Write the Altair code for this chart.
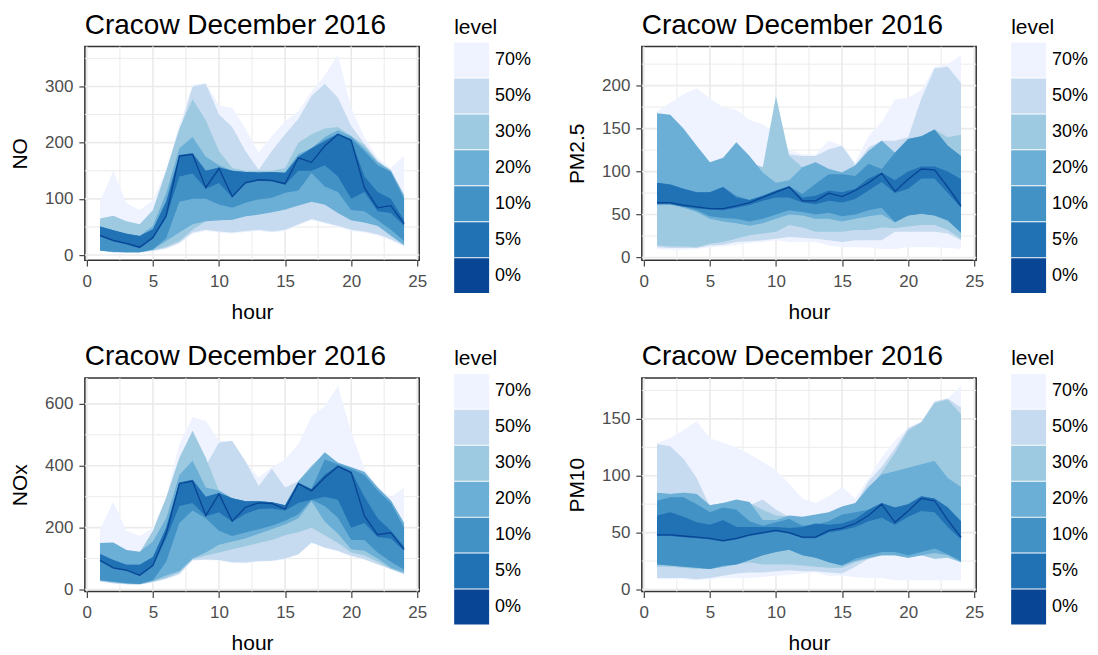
import altair as alt
import pandas as pd

HOURS = list(range(1, 25))
LEVELS = ["70%", "50%", "30%", "20%", "10%", "5%", "0%"]
BLUES = ["#EFF3FF", "#C6DBEF", "#9ECAE1", "#6BAED6", "#4292C6", "#2171B5", "#084594"]
TITLE = "Cracow December 2016"
X_MAJOR = [0, 5, 10, 15, 20, 25]
X_MINOR = [2.5, 7.5, 12.5, 17.5, 22.5]

# ---------------- NO ----------------
NO_med  = [35, 26, 21, 14, 31, 70, 176, 179, 120, 154, 104, 129, 134, 133, 127, 173, 165, 194, 215, 204, 120, 84, 88, 56]
NO_lo5  = [33, 24, 19, 12, 29, 66, 140, 145, 118, 128, 103, 127, 132, 131, 125, 150, 150, 160, 140, 100, 112, 78, 75, 52]
NO_hi5  = [51, 44, 38, 34, 46, 95, 178, 181, 150, 156, 150, 148, 147, 148, 146, 175, 190, 202, 216, 205, 140, 112, 100, 62]
NO_lo10 = [8, 6, 5, 5, 10, 30, 95, 100, 100, 90, 84, 93, 99, 102, 111, 115, 146, 122, 112, 80, 78, 62, 45, 25]
NO_hi10 = [51, 44, 38, 34, 46, 95, 178, 181, 150, 156, 150, 148, 147, 148, 146, 175, 190, 205, 216, 208, 185, 160, 148, 100]
NO_lo20 = [8, 6, 5, 5, 10, 25, 40, 55, 60, 62, 63, 69, 72, 76, 81, 88, 95, 90, 75, 62, 58, 52, 35, 18]
NO_hi20 = [51, 44, 38, 34, 52, 110, 190, 210, 175, 160, 150, 148, 147, 148, 148, 180, 190, 210, 222, 212, 190, 165, 150, 105]
NO_lo30 = [8, 5, 5, 5, 8, 15, 25, 45, 60, 62, 63, 69, 72, 76, 81, 88, 95, 90, 75, 62, 58, 52, 35, 18]
NO_hi30 = [65, 70, 60, 55, 80, 150, 225, 277, 240, 185, 155, 150, 150, 150, 155, 200, 215, 225, 228, 212, 196, 167, 150, 107]
NO_lo50 = [8, 5, 5, 5, 8, 12, 22, 40, 45, 42, 40, 43, 45, 42, 45, 55, 64, 58, 52, 45, 42, 37, 28, 17]
NO_hi50 = [60, 65, 55, 50, 75, 140, 220, 300, 305, 250, 228, 185, 152, 185, 215, 242, 283, 305, 280, 230, 198, 168, 152, 108]
NO_lo70 = [7, 4, 4, 4, 6, 11, 20, 38, 43, 40, 38, 41, 43, 40, 43, 53, 62, 56, 50, 43, 40, 35, 26, 15]
NO_hi70 = [96, 150, 92, 80, 98, 152, 232, 303, 306, 266, 262, 225, 182, 212, 238, 256, 291, 320, 356, 262, 210, 173, 155, 177]

# ---------------- PM2.5 ----------------
PM25_med  = [64, 64, 61, 59, 57, 57, 60, 64, 70, 76, 82, 66, 66, 75, 71, 78, 87, 98, 77, 91, 103, 102, 82, 60]
PM25_lo5  = [62, 62, 59, 57, 56, 55, 58, 61, 66, 70, 70, 64, 62, 66, 64, 68, 78, 88, 75, 80, 92, 92, 75, 58]
PM25_hi5  = [87, 85, 80, 76, 76, 82, 70, 67, 72, 78, 83, 70, 72, 78, 76, 80, 92, 99, 90, 100, 106, 106, 100, 91]
PM25_lo10 = [62, 62, 59, 55, 48, 46, 45, 42, 45, 50, 55, 53, 50, 52, 48, 50, 55, 58, 41, 49, 51, 49, 43, 29]
PM25_hi10 = [87, 85, 80, 76, 76, 82, 72, 67, 72, 78, 83, 74, 86, 97, 97, 95, 109, 103, 122, 138, 141, 149, 130, 118]
PM25_lo20 = [62, 62, 58, 53, 45, 42, 40, 37, 40, 45, 50, 49, 45, 45, 42, 45, 48, 50, 41, 49, 51, 49, 43, 29]
PM25_hi20 = [168, 166, 150, 130, 111, 116, 134, 118, 99, 87, 90, 105, 111, 103, 99, 107, 124, 136, 122, 138, 141, 149, 130, 118]
PM25_lo30 = [14, 13, 13, 12, 16, 18, 22, 26, 28, 30, 38, 35, 30, 30, 30, 32, 32, 35, 34, 36, 38, 38, 32, 22]
PM25_hi30 = [160, 160, 145, 125, 105, 110, 125, 110, 105, 188, 118, 105, 111, 103, 99, 107, 124, 136, 122, 138, 141, 149, 140, 143]
PM25_lo50 = [12, 11, 11, 11, 14, 15, 18, 19, 20, 22, 24, 23, 22, 20, 18, 20, 20, 20, 30, 30, 30, 30, 28, 20]
PM25_hi50 = [160, 160, 145, 125, 105, 110, 125, 110, 105, 140, 120, 118, 118, 126, 130, 108, 128, 136, 136, 140, 185, 220, 222, 203]
PM25_lo70 = [10, 9, 9, 10, 12, 13, 15, 17, 18, 20, 18, 18, 18, 14, 12, 12, 12, 10, 10, 12, 12, 12, 11, 10]
PM25_hi70 = [170, 180, 190, 197, 185, 175, 172, 160, 155, 145, 125, 120, 120, 136, 130, 111, 141, 158, 184, 186, 195, 222, 225, 236]

# ---------------- NOx ----------------
NOX_med  = [94, 70, 63, 46, 78, 180, 342, 350, 239, 309, 221, 266, 280, 278, 260, 342, 319, 362, 398, 378, 238, 177, 184, 130]
NOX_lo5  = [92, 68, 60, 44, 75, 165, 270, 280, 237, 250, 219, 245, 260, 262, 255, 280, 290, 300, 290, 200, 215, 170, 165, 125]
NOX_hi5  = [115, 95, 80, 80, 105, 200, 346, 355, 300, 312, 295, 285, 285, 282, 272, 345, 325, 372, 400, 382, 300, 230, 190, 140]
NOX_lo10 = [30, 25, 20, 18, 30, 90, 215, 255, 230, 190, 173, 184, 195, 206, 222, 243, 290, 270, 232, 160, 160, 120, 90, 65]
NOX_hi10 = [115, 95, 80, 80, 105, 200, 346, 355, 300, 312, 295, 285, 285, 282, 272, 345, 325, 420, 405, 390, 370, 320, 280, 200]
NOX_lo20 = [30, 24, 20, 18, 28, 45, 60, 100, 120, 145, 155, 165, 180, 195, 210, 230, 285, 220, 180, 130, 125, 100, 70, 55]
NOX_hi20 = [150, 152, 128, 122, 155, 230, 370, 416, 330, 320, 295, 285, 285, 282, 272, 350, 395, 444, 410, 395, 380, 330, 288, 215]
NOX_lo30 = [28, 22, 18, 17, 25, 38, 55, 98, 110, 120, 130, 140, 150, 160, 175, 185, 200, 175, 150, 120, 110, 90, 66, 52]
NOX_hi30 = [150, 150, 125, 120, 190, 297, 426, 513, 426, 319, 295, 285, 285, 282, 272, 350, 400, 440, 410, 395, 380, 330, 288, 215]
NOX_lo50 = [26, 20, 17, 16, 24, 35, 50, 95, 97, 95, 88, 87, 92, 93, 100, 114, 152, 136, 125, 109, 98, 82, 66, 50]
NOX_hi50 = [150, 150, 125, 120, 185, 290, 400, 500, 400, 475, 480, 415, 335, 390, 330, 350, 400, 440, 410, 395, 380, 330, 288, 215]
NOX_lo70 = [25, 19, 16, 15, 22, 33, 48, 93, 95, 93, 86, 85, 90, 91, 98, 112, 150, 134, 123, 107, 96, 80, 64, 48]
NOX_hi70 = [195, 284, 190, 173, 200, 297, 470, 558, 545, 480, 482, 412, 362, 395, 420, 470, 560, 592, 658, 510, 390, 335, 298, 330]

# ---------------- PM10 ----------------
PM10_med  = [48, 48, 47, 46, 45, 43, 45, 48, 50, 52, 50, 46, 46, 52, 54, 58, 65, 75, 59, 69, 80, 78, 61, 46]
PM10_lo5  = [47, 47, 46, 45, 44, 42, 44, 47, 49, 51, 49, 45, 45, 50, 52, 55, 60, 63, 57, 64, 69, 68, 55, 44]
PM10_hi5  = [65, 68, 64, 59, 57, 61, 55, 55, 55, 55, 54, 55, 58, 57, 58, 62, 70, 76, 72, 75, 82, 80, 72, 60]
PM10_lo10 = [22, 21, 20, 19, 18, 21, 22, 26, 30, 33, 35, 30, 28, 24, 21, 27, 30, 33, 33, 30, 33, 36, 31, 25]
PM10_hi10 = [78, 81, 81, 75, 68, 72, 70, 60, 56, 59, 62, 56, 57, 60, 66, 68, 70, 76, 72, 75, 82, 80, 72, 60]
PM10_lo20 = [22, 21, 20, 19, 18, 20, 22, 26, 30, 33, 35, 30, 28, 24, 21, 25, 28, 30, 30, 28, 30, 32, 30, 24]
PM10_hi20 = [85, 84, 85, 84, 74, 76, 79, 77, 61, 61, 65, 64, 66, 68, 73, 76, 90, 101, 104, 107, 110, 113, 98, 90]
PM10_lo30 = [20, 20, 19, 18, 18, 20, 22, 24, 22, 22, 22, 21, 20, 19, 19, 24, 27, 30, 30, 28, 30, 27, 28, 24]
PM10_hi30 = [85, 84, 85, 84, 74, 76, 78, 76, 70, 65, 64, 62, 62, 64, 70, 72, 88, 103, 120, 140, 147, 164, 167, 154]
PM10_lo50 = [10, 10, 10, 9, 10, 12, 14, 15, 15, 16, 17, 16, 16, 15, 14, 20, 27, 30, 30, 28, 30, 27, 28, 24]
PM10_hi50 = [128, 126, 115, 98, 73, 74, 74, 74, 79, 70, 64, 60, 60, 66, 72, 75, 95, 108, 124, 142, 147, 165, 168, 160]
PM10_lo70 = [9, 9, 9, 8, 9, 10, 10, 10, 11, 12, 13, 14, 15, 12, 12, 11, 10, 10, 8, 8, 8, 8, 8, 8]
PM10_hi70 = [129, 133, 140, 148, 133, 129, 125, 119, 112, 105, 93, 80, 76, 82, 90, 80, 98, 116, 131, 142, 148, 166, 168, 179]

PW, PH = 335, 214
FONT = "Liberation Sans"


def panel(ytitle, med, bands, ydom, ymajor, yminor):
    xs = alt.Scale(domain=[-0.15, 25.15], nice=False, zero=False)
    ys = alt.Scale(domain=ydom, nice=False, zero=False)
    xax = alt.Axis(title="hour", values=X_MAJOR, grid=False, domain=False, labelFlush=False,
                   labelPadding=7, titlePadding=12, format="d")
    yax = alt.Axis(title=ytitle, values=ymajor, grid=False, domain=False, labelFlush=False,
                   labelPadding=6, titlePadding=14, format="d")
    cscale = alt.Scale(domain=LEVELS, range=BLUES)
    leg = alt.Legend(title="level", orient="none", legendX=PW + 35, legendY=-30,
                     symbolType="square", symbolSize=1225, symbolStrokeWidth=0,
                     rowPadding=1, labelFontSize=18, titleFontSize=21, labelOffset=6,
                     titlePadding=5, padding=0, labelColor="black", titleColor="black",
                     titleFontWeight="normal", labelFont=FONT, titleFont=FONT)
    layers = []
    for vals, w in ((X_MINOR, 1.0), (X_MAJOR, 1.6)):
        layers.append(alt.Chart(pd.DataFrame({"g": vals})).mark_rule(color="#EBEBEB", strokeWidth=w)
                      .encode(x=alt.X("g:Q", scale=xs, axis=xax)))
    for vals, w in ((yminor, 1.0), (ymajor, 1.6)):
        layers.append(alt.Chart(pd.DataFrame({"g": vals})).mark_rule(color="#EBEBEB", strokeWidth=w)
                      .encode(y=alt.Y("g:Q", scale=ys, axis=yax)))
    for lev, (lo, hi) in zip(LEVELS[:6], bands):
        df = pd.DataFrame({"hour": HOURS, "lo": lo, "hi": hi, "level": lev})
        layers.append(alt.Chart(df).mark_area(opacity=1).encode(
            x=alt.X("hour:Q", scale=xs, axis=xax),
            y=alt.Y("lo:Q", scale=ys, axis=yax),
            y2="hi:Q",
            color=alt.Color("level:N", scale=cscale, legend=leg),
        ))
    dm = pd.DataFrame({"hour": HOURS, "med": med})
    layers.append(alt.Chart(dm).mark_line(color="#084594", strokeWidth=1.3).encode(
        x=alt.X("hour:Q", scale=xs, axis=xax),
        y=alt.Y("med:Q", scale=ys, axis=yax),
    ))
    return alt.layer(*layers).properties(
        width=PW, height=PH,
        title=alt.TitleParams(TITLE, anchor="start", frame="group", fontSize=28,
                              fontWeight="normal", color="black", offset=-23, font=FONT),
    )


p_no = panel("NO", NO_med,
             [(NO_lo70, NO_hi70), (NO_lo50, NO_hi50), (NO_lo30, NO_hi30),
              (NO_lo20, NO_hi20), (NO_lo10, NO_hi10), (NO_lo5, NO_hi5)],
             [-9, 371], [0, 100, 200, 300], [50, 150, 250, 350])
p_pm25 = panel("PM2.5", PM25_med,
               [(PM25_lo70, PM25_hi70), (PM25_lo50, PM25_hi50), (PM25_lo30, PM25_hi30),
                (PM25_lo20, PM25_hi20), (PM25_lo10, PM25_hi10), (PM25_lo5, PM25_hi5)],
               [-3, 245.5], [0, 50, 100, 150, 200], [25, 75, 125, 175, 225])
p_nox = panel("NOx", NOX_med,
              [(NOX_lo70, NOX_hi70), (NOX_lo50, NOX_hi50), (NOX_lo30, NOX_hi30),
               (NOX_lo20, NOX_hi20), (NOX_lo10, NOX_hi10), (NOX_lo5, NOX_hi5)],
              [-6.5, 684], [0, 200, 400, 600], [100, 300, 500])
p_pm10 = panel("PM10", PM10_med,
               [(PM10_lo70, PM10_hi70), (PM10_lo50, PM10_hi50), (PM10_lo30, PM10_hi30),
                (PM10_lo20, PM10_hi20), (PM10_lo10, PM10_hi10), (PM10_lo5, PM10_hi5)],
               [-1.8, 186], [0, 50, 100, 150], [25, 75, 125, 175])

chart = alt.concat(p_no, p_pm25, p_nox, p_pm10, columns=2,
                   spacing={"row": 118, "column": 223}, bounds="flush").resolve_scale(
    color="independent", x="independent", y="independent"
).properties(
    padding={"left": 0, "top": 2, "right": 0, "bottom": 0}
).configure(font=FONT).configure_view(
    stroke="#333333", strokeWidth=1.5
).configure_axis(
    tickColor="#333333", tickSize=6, tickWidth=1.1, labelColor="#4D4D4D",
    labelFontSize=17, titleFontSize=21, titleColor="black", titleFontWeight="normal",
    labelFont=FONT, titleFont=FONT
)

chart.save("out.html", embed_options={"renderer": "svg", "actions": False})
